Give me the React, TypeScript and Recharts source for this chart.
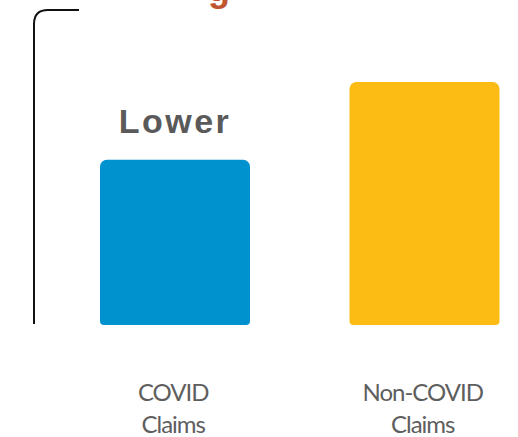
import React from "react";
import { BarChart, Bar, XAxis, YAxis, Cell, LabelList } from "recharts";

const categories = ["COVID\nClaims", "Non-COVID\nClaims"];
const values = [68, 100];
const colors = ["#0091cf", "#fdbc13"];
const barLabels = ["Lower", ""];

const data = categories.map((c, i) => ({ name: c, value: values[i], label: barLabels[i] }));

const Tick = (props: any) => {
  const { x, y, payload } = props;
  const lines = String(payload.value).split("\n");
  return (
    <text
      x={x - 1.5}
      y={y}
      textAnchor="middle"
      fill="#5e5e5e"
      fontFamily="Lato, 'Open Sans', sans-serif"
      fontSize={24}
      letterSpacing={-1}
    >
      {lines.map((l, i) => (
        <tspan key={i} x={x - 1.5} dy={i === 0 ? 68 : 32}>
          {l}
        </tspan>
      ))}
    </text>
  );
};

export default function App() {
  return (
    <div style={{ position: "absolute", left: 0, top: 0, width: 518, height: 437, overflow: "hidden" }}>
      <BarChart
        width={600}
        height={437}
        data={data}
        margin={{ top: 82, right: 51, bottom: 0, left: 50 }}
        barCategoryGap={0}
        style={{ overflow: "visible" }}
      >
        <XAxis
          dataKey="name"
          axisLine={false}
          tickLine={false}
          tick={<Tick />}
          height={112}
          interval={0}
        />
        <YAxis hide domain={[0, 100]} />
        <Bar dataKey="value" barSize={150} radius={[7, 7, 4, 4]} isAnimationActive={false}>
          {data.map((d, i) => (
            <Cell key={i} fill={colors[i]} />
          ))}
          <LabelList
            dataKey="label"
            position="top"
            offset={27}
            fill="#5a5a5a"
            fontFamily="'Liberation Sans', Arial, sans-serif"
            fontWeight="bold"
            fontSize={34}
            letterSpacing={2.5}
          />
        </Bar>
        <path d="M 79 10 H 48 Q 34 10 34 24 V 324" fill="none" stroke="#111" strokeWidth={2} />
        <text x={219} y={1} textAnchor="middle" fill="#c0562f" fontFamily="'Liberation Sans', Arial, sans-serif" fontWeight="bold" fontSize={36}>g</text>
      </BarChart>
    </div>
  );
}
